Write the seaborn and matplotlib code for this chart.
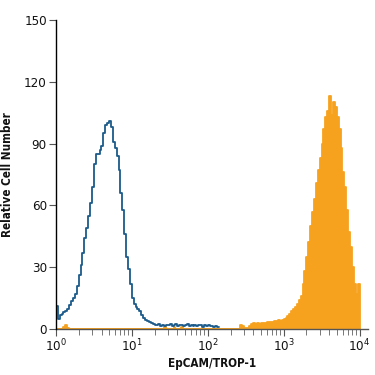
import numpy as np
import pandas as pd
import matplotlib
matplotlib.use("Agg")
import matplotlib.pyplot as plt
import seaborn as sns
from matplotlib.ticker import FixedLocator, LogLocator, NullFormatter

# ---- data (log10 bins of width 0.025 starting at 10^0) ----
bin_width = 0.025
blue_counts = [11, 5, 7, 7.5, 8.2, 8.5, 9.5, 11.5, 13.5, 15,
               17, 21, 26, 31, 37, 44, 49, 55, 61, 69,
               80, 85, 85, 87, 89, 95, 99, 100, 101, 98,
               91, 88, 84, 77, 66, 58, 46, 35, 29, 22,
               15, 12, 10.5, 9.5, 8.5, 7, 5.5, 4.5, 3.8, 3.2,
               2.8, 2.3, 2.0, 1.8, 2.2, 1.6, 2.0, 1.4, 2.1, 1.7,
               2.3, 1.5, 1.9, 2.2, 1.4, 1.9, 2.1, 1.5, 1.8, 2.2,
               1.3, 1.9, 1.6, 2.1, 1.4, 1.8, 2.0, 1.2, 1.7, 1.5,
               1.9, 1.3, 1.6, 1.2, 1.4, 1.0]

orange_counts = ([0, 0, 0, 0, 1, 2, 0.5, 0, 0, 0] + [0] * 47 + [1, 0, 0, 0, 0, 0.8, 0, 0, 0, 1]
                 + [0] * 29 +
                 [0, 2, 1.5, 0.5, 0.3, 0.5, 1.5, 2.5, 2.8, 2.5,
                  2.8, 2.6, 2.9, 3.0, 2.7, 3.2, 3.4, 3.3, 3.6, 3.9,
                  3.7, 4.2, 4.0, 4.6, 4.8, 5.5, 6.5, 7.5, 8.5, 9.5,
                  10.5, 12, 14, 16, 22, 28, 35, 42, 50, 57,
                  63, 71, 77, 83, 90, 97, 103, 106, 113, 104,
                  110, 108, 103, 97, 88, 76, 69, 58, 47, 40,
                  30, 22, 17, 22])

y_ticks = [0, 30, 60, 90, 120, 150]
x_decades = [0, 1, 2, 3, 4]
x_label = "EpCAM/TROP-1"
y_label = "Relative Cell Number"

blue_log = np.arange(len(blue_counts)) * bin_width + bin_width / 2
orange_log = np.arange(len(orange_counts)) * bin_width + bin_width / 2
df_blue = pd.DataFrame({"fl": 10 ** blue_log, "n": blue_counts})
df_orange = pd.DataFrame({"fl": 10 ** orange_log, "n": orange_counts})

ORANGE = "#f7a21f"
BLUE = "#1b5a8a"

sns.set_style("white")
plt.rcParams["font.family"] = ["DejaVu Sans"]
plt.rcParams["font.stretch"] = "condensed"
plt.rcParams["mathtext.fontset"] = "custom"
plt.rcParams["mathtext.rm"] = "DejaVu Sans:stretch=condensed"
plt.rcParams["mathtext.it"] = "DejaVu Sans:stretch=condensed"

fig = plt.figure(figsize=(3.75, 3.75), dpi=100)
ax = fig.add_axes([0.149, 0.1227, 0.832, 0.824])

sns.histplot(data=df_orange, x="fl", weights="n", log_scale=True,
             binwidth=bin_width, binrange=(0, len(orange_counts) * bin_width),
             element="step", fill=True, color=ORANGE, alpha=1.0,
             edgecolor=ORANGE, linewidth=1.3, ax=ax)
sns.histplot(data=df_blue, x="fl", weights="n", log_scale=True,
             binwidth=bin_width, binrange=(0, len(blue_counts) * bin_width),
             element="step", fill=False, color=BLUE, linewidth=1.3, ax=ax)

ax.set_xlim(1, 10 ** 4.11)
ax.set_ylim(0, 150)
ax.set_yticks(y_ticks)
ax.set_yticklabels([str(v) for v in y_ticks], fontsize=9.5)
ax.xaxis.set_major_locator(FixedLocator([10.0 ** d for d in x_decades]))
ax.set_xticklabels([r"$10^{%d}$" % d for d in x_decades], fontsize=9.5)
ax.xaxis.set_minor_locator(LogLocator(base=10, subs=np.arange(2, 10), numticks=20))
ax.xaxis.set_minor_formatter(NullFormatter())

ax.tick_params(axis="y", direction="out", length=5, width=0.8, color="#555555",
               pad=1.5, labelcolor="#111111", left=True)
ax.tick_params(axis="x", which="major", direction="out", length=5, width=0.8,
               color="#555555", pad=1.5, labelcolor="#111111", bottom=True)
ax.tick_params(axis="x", which="minor", direction="out", length=4, width=0.7,
               color="#777777", bottom=True)

for s in ["top", "right"]:
    ax.spines[s].set_visible(False)
ax.spines["left"].set_color("#000000")
ax.spines["left"].set_linewidth(1.0)
ax.spines["bottom"].set_color("#555555")
ax.spines["bottom"].set_linewidth(1.0)
ax.spines["left"].set_zorder(5)

ax.set_xlabel(x_label, fontsize=8.4, fontweight="bold", labelpad=2, color="#111111")
ax.set_ylabel(y_label, fontsize=8.4, fontweight="bold", labelpad=7, color="#111111")

fig.savefig("out.png", dpi=100)
